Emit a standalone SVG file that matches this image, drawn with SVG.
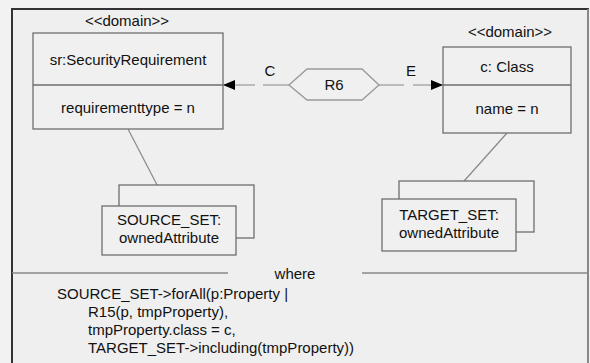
<svg xmlns="http://www.w3.org/2000/svg" width="590" height="363" viewBox="0 0 590 363">
  <style>
    text { font-family: "Liberation Sans", Arial, sans-serif; font-size: 15px; fill: #111; }
    .mid { text-anchor: middle; }
    .box { fill: #f0f0f0; stroke: #6e6e6e; stroke-width: 1.3; }
    .div { stroke: #6e6e6e; stroke-width: 1.3; }
    .link { stroke: #888; stroke-width: 1.2; fill: none; }
    .hex { fill: #f0f0f0; stroke: #999; stroke-width: 1.3; }
  </style>
  <defs>
    <marker id="arrow" viewBox="0 0 12 10" refX="12" refY="5" markerWidth="12" markerHeight="10" markerUnits="userSpaceOnUse" orient="auto">
      <path d="M0,0 L12,5 L0,10 Z" fill="#000"/>
    </marker>
  </defs>

  <!-- background and frame -->
  <rect x="0" y="0" width="590" height="363" fill="#f2f2f2"/>
  <rect x="12" y="9" width="576" height="360" fill="#efefef"/>
  <line x1="11" y1="9" x2="589" y2="9" stroke="#333" stroke-width="2"/>
  <line x1="12" y1="8" x2="12" y2="363" stroke="#333" stroke-width="2"/>
  <line x1="588" y1="9" x2="588" y2="363" stroke="#888" stroke-width="2"/>

  <!-- connectors -->
  <g id="connectors">
    <path class="link" d="M289,85 H263 M255,85 H223" marker-end="url(#arrow)"/>
    <path class="link" d="M379,85 H404 M413,85 H443" marker-end="url(#arrow)"/>
    <line class="link" x1="128" y1="129" x2="168" y2="206"/>
    <line class="link" x1="507" y1="133" x2="448" y2="199"/>
    <text x="270" y="76" class="mid">C</text>
    <text x="411" y="76" class="mid">E</text>
  </g>

  <!-- source domain object -->
  <g id="security-requirement">
    <text x="127" y="26" class="mid">&lt;&lt;domain&gt;&gt;</text>
    <rect class="box" x="33" y="33" width="190" height="96"/>
    <line class="div" x1="33" y1="85" x2="223" y2="85"/>
    <text x="128" y="65" class="mid">sr:SecurityRequirement</text>
    <text x="128" y="113" class="mid">requirementtype = n</text>
  </g>

  <!-- relation -->
  <g id="r6">
    <polygon class="hex" points="289,85 307,69 362,69 379,85 362,100 307,100"/>
    <text x="334" y="90" class="mid">R6</text>
  </g>

  <!-- target domain object -->
  <g id="class">
    <text x="510" y="37" class="mid">&lt;&lt;domain&gt;&gt;</text>
    <rect class="box" x="443" y="47" width="128" height="86"/>
    <line class="div" x1="443" y1="85" x2="571" y2="85"/>
    <text x="507" y="72" class="mid">c: Class</text>
    <text x="507" y="114" class="mid">name = n</text>
  </g>

  <!-- source set (stacked) -->
  <g id="source-set">
    <rect class="box" x="119" y="185" width="135" height="53"/>
    <rect class="box" x="102" y="206" width="134" height="49"/>
    <text x="169" y="225" class="mid">SOURCE_SET:</text>
    <text x="169" y="243" class="mid">ownedAttribute</text>
  </g>

  <!-- target set (stacked) -->
  <g id="target-set">
    <rect class="box" x="399" y="181" width="135" height="51"/>
    <rect class="box" x="382" y="199" width="134" height="52"/>
    <text x="449" y="220" class="mid">TARGET_SET:</text>
    <text x="449" y="238" class="mid">ownedAttribute</text>
  </g>

  <!-- where clause -->
  <g id="where">
    <line x1="12" y1="273" x2="228" y2="273" stroke="#888" stroke-width="1.3"/>
    <line x1="362" y1="273" x2="588" y2="273" stroke="#888" stroke-width="1.3"/>
    <text x="295" y="279" class="mid">where</text>
    <text x="57" y="299">SOURCE_SET-&gt;forAll(p:Property |</text>
    <text x="88" y="317">R15(p, tmpProperty),</text>
    <text x="88" y="335">tmpProperty.class = c,</text>
    <text x="88" y="353">TARGET_SET-&gt;including(tmpProperty))</text>
  </g>
</svg>
